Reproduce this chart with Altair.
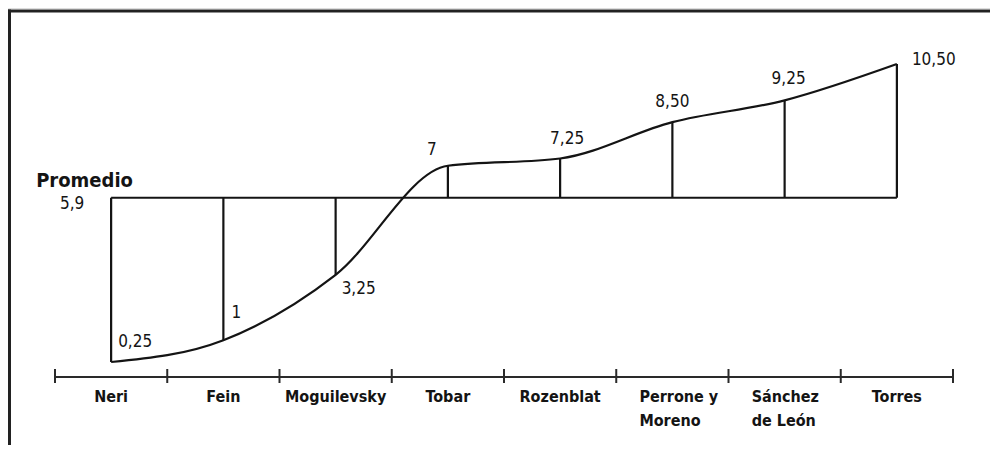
import altair as alt
import pandas as pd

# ---- data ----
names = ["Neri", "Fein", "Moguilevsky", "Tobar", "Rozenblat",
         "Perrone y\nMoreno", "Sánchez\nde León", "Torres"]
values = [0.25, 1, 3.25, 7, 7.25, 8.50, 9.25, 10.50]
value_labels = ["0,25", "1", "3,25", "7", "7,25", "8,50", "9,25", "10,50"]
promedio = 5.9
promedio_label = "5,9"

n = len(names)
df = pd.DataFrame({
    "idx": list(range(n)),
    "name": names,
    "value": values,
    "label": value_labels,
    "prom": [promedio] * n,
})
df["multi"] = df["name"].str.contains("\n")
bounds = pd.DataFrame({"b": [i - 0.5 for i in range(n + 1)]})
prom_df = pd.DataFrame({"x0": [0], "x1": [n - 1], "prom": [promedio],
                        "t": ["Promedio"], "v": [promedio_label]})

FONT = "DejaVu Sans Condensed"
INK = "#141414"

xs = alt.Scale(domain=[-0.5, n - 0.5], range=[47, 945])
ys = alt.Scale(domain=[0.25, 10.5], range=[354, 56])
X = lambda f: alt.X(f, scale=xs, axis=None)
Y = lambda f: alt.Y(f, scale=ys, axis=None)

base = alt.Chart(df)

curve = base.mark_line(interpolate="monotone", color=INK, strokeWidth=2.2).encode(
    x=X("idx:Q"), y=Y("value:Q"))

verticals = base.mark_rule(color=INK, strokeWidth=2.2).encode(
    x=X("idx:Q"), y=Y("prom:Q"), y2="value:Q")

prom_line = alt.Chart(prom_df).mark_rule(color=INK, strokeWidth=2.2).encode(
    x=X("x0:Q"), x2="x1:Q", y=Y("prom:Q"))

prom_title = alt.Chart(prom_df).mark_text(
    font=FONT, fontSize=20, fontWeight="bold", align="left", baseline="alphabetic",
    dx=-75, dy=-11, color=INK).encode(x=X("x0:Q"), y=Y("prom:Q"), text="t:N")

prom_value = alt.Chart(prom_df).mark_text(
    font=FONT, fontSize=17, align="center", baseline="middle",
    dx=-39, dy=6, color=INK).encode(x=X("x0:Q"), y=Y("prom:Q"), text="v:N")

# label placement per point (styling): (align, dx, dy)
placement = {
    0: ("left", 7, -20),
    1: ("left", 8, -27),
    2: ("left", 6, 14),
    3: ("center", -16, -16),
    4: ("center", 7, -19),
    5: ("center", 0, -20),
    6: ("center", 4, -21),
    7: ("left", 15, -4),
}
label_layers = []
for i, (al, dx, dy) in placement.items():
    label_layers.append(
        base.transform_filter(alt.datum.idx == i).mark_text(
            font=FONT, fontSize=17, align=al, baseline="middle", dx=dx, dy=dy, color=INK
        ).encode(x=X("idx:Q"), y=Y("value:Q"), text="label:N"))

axis_line = alt.Chart(bounds).mark_rule(color="#2a2a2a", strokeWidth=2).encode(
    x=X("min(b):Q"), x2="max(b):Q", y=alt.value(369))
ticks = alt.Chart(bounds).mark_rule(color="#2a2a2a", strokeWidth=2).encode(
    x=X("b:Q"), y=alt.value(361), y2=alt.value(375))

cat_single = base.transform_filter(~alt.datum.multi).mark_text(
    font=FONT, fontSize=16, fontWeight="bold", align="center", baseline="top",
    color=INK).encode(x=X("idx:Q"), y=alt.value(381), text="name:N")

cat_multi = base.transform_filter(alt.datum.multi).mark_text(
    font=FONT, fontSize=16, fontWeight="bold", align="left", baseline="top",
    lineBreak="\n", lineHeight=24, dx=-33, color=INK).encode(
    x=X("idx:Q"), y=alt.value(381), text="name:N")

frame_top = alt.Chart(prom_df).mark_rule(color="#222", strokeWidth=3).encode(
    x=alt.value(0), x2=alt.value(982), y=alt.value(3))
frame_left = alt.Chart(prom_df).mark_rule(color="#222", strokeWidth=3).encode(
    x=alt.value(1.5), y=alt.value(1.5), y2=alt.value(437))

chart = alt.layer(
    frame_top, frame_left, axis_line, ticks, prom_line, verticals, curve,
    prom_title, prom_value, *label_layers, cat_single, cat_multi
).properties(
    width=982, height=437, autosize=alt.AutoSizeParams(type="none"),
    padding=0,
).configure_view(stroke=None).configure(background="white")

chart.save("out.html", embed_options={"renderer": "svg", "actions": False})
